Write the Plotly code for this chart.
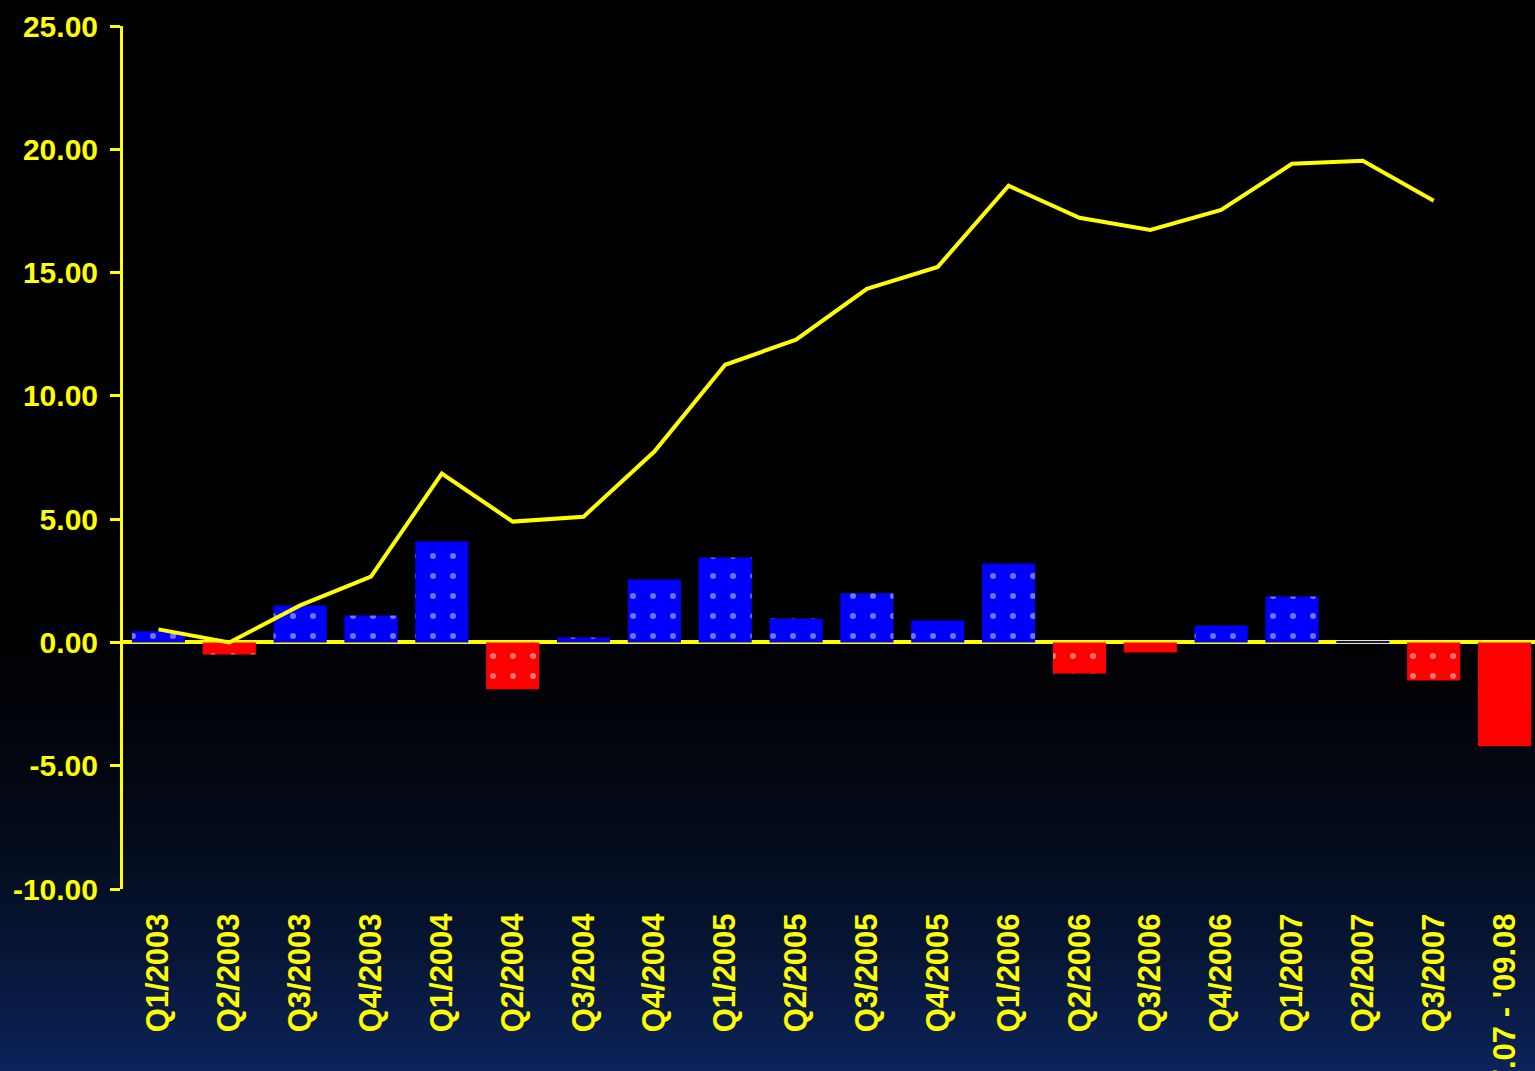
import plotly.graph_objects as go

# Quarterly periods
quarters = [
    "Q1/2003", "Q2/2003", "Q3/2003", "Q4/2003",
    "Q1/2004", "Q2/2004", "Q3/2004", "Q4/2004",
    "Q1/2005", "Q2/2005", "Q3/2005", "Q4/2005",
    "Q1/2006", "Q2/2006", "Q3/2006", "Q4/2006",
    "Q1/2007", "Q2/2007", "Q3/2007", "'07.07 - '09.08",
]

# Period change (bars)
period_change = [
    0.45, -0.49, 1.50, 1.09,
    4.09, -1.90, 0.20, 2.55,
    3.44, 0.97, 1.99, 0.89,
    3.20, -1.26, -0.41, 0.69,
    1.86, 0.05, -1.54, -4.21,
]

# Cumulative development (line); no value for the last period
cumulative = [
    0.53, 0.00, 1.50, 2.67,
    6.85, 4.90, 5.10, 7.74,
    11.26, 12.28, 14.34, 15.23,
    18.52, 17.22, 16.73, 17.54,
    19.41, 19.53, 17.91, None,
]

y_ticks = [-10, -5, 0, 5, 10, 15, 20, 25]
y_tick_labels = ["-10.00", "-5.00", "0.00", "5.00", "10.00", "15.00", "20.00", "25.00"]

YELLOW = "#FFFF00"
FONT = "Liberation Sans, Arial, sans-serif"

bar_colors = ["#0000FF" if v >= 0 else "#FF0000" for v in period_change]
# the final (longer) period is drawn as a plain bar, the rest dotted
pattern_shapes = ["."] * (len(quarters) - 1) + [""]

fig = go.Figure()

fig.add_trace(go.Bar(
    x=quarters,
    y=period_change,
    width=0.75,
    marker=dict(
        color=bar_colors,
        line=dict(width=0),
        pattern=dict(
            shape=pattern_shapes,
            fillmode="overlay",
            fgcolor="#7a10a8",
            fgopacity=0.45,
            size=20,
            solidity=0.07,
        ),
    ),
    showlegend=False,
    hoverinfo="x+y",
))

fig.add_trace(go.Scatter(
    x=quarters,
    y=cumulative,
    mode="lines",
    line=dict(color=YELLOW, width=4),
    connectgaps=False,
    showlegend=False,
))

# Dark background fading from black into navy towards the bottom
shapes = []
top_px, bottom_px = 26, 889
plot_h = bottom_px - top_px
start_px, end_px = 560, 1071
n_strips = 60
c0 = (0, 0, 0)
c1 = (12, 36, 90)
for i in range(n_strips):
    p0 = start_px + (end_px - start_px) * i / n_strips
    p1 = start_px + (end_px - start_px) * (i + 1) / n_strips + 1
    t = ((i + 0.5) / n_strips) ** 1.9
    col = tuple(round(a + (b - a) * t) for a, b in zip(c0, c1))
    shapes.append(dict(
        type="rect", xref="paper", yref="paper", layer="below",
        x0=-0.2, x1=1.05,
        y0=(bottom_px - p1) / plot_h, y1=(bottom_px - p0) / plot_h,
        fillcolor="rgb(%d,%d,%d)" % col, line=dict(width=0),
    ))

fig.update_layout(
    width=1535,
    height=1071,
    margin=dict(l=123, r=0, t=26, b=182, autoexpand=False),
    paper_bgcolor="#000000",
    plot_bgcolor="rgba(0,0,0,0)",
    shapes=shapes,
    bargap=0.25,
    font=dict(family=FONT, color=YELLOW),
    xaxis=dict(
        type="category",
        range=[-0.5, 19.43],
        automargin=False,
        showgrid=False,
        showline=False,
        zeroline=False,
        ticks="outside",
        ticklen=11,
        tickcolor="rgba(0,0,0,0)",
        tickangle=-90,
        tickfont=dict(family=FONT, size=31, color=YELLOW, weight="bold"),
    ),
    yaxis=dict(
        range=[-10, 25],
        automargin=False,
        tickvals=y_ticks,
        ticktext=y_tick_labels,
        showgrid=False,
        showline=True,
        linecolor=YELLOW,
        linewidth=3,
        zeroline=True,
        zerolinecolor=YELLOW,
        zerolinewidth=4,
        ticks="outside",
        ticklen=10,
        tickwidth=3,
        tickcolor=YELLOW,
        ticklabelstandoff=6,
        tickfont=dict(family=FONT, size=30, color=YELLOW, weight="bold"),
        layer="above traces",
    ),
    yaxis2=dict(
        overlaying="y",
        range=[-10, 25],
        automargin=False,
        tickvals=y_ticks,
        showticklabels=False,
        showgrid=False,
        showline=False,
        zeroline=True,
        zerolinecolor=YELLOW,
        zerolinewidth=4,
        ticks="inside",
        ticklen=11,
        tickwidth=3,
        tickcolor=YELLOW,
        side="left",
        layer="above traces",
    ),
)

fig.write_html("out.html")
